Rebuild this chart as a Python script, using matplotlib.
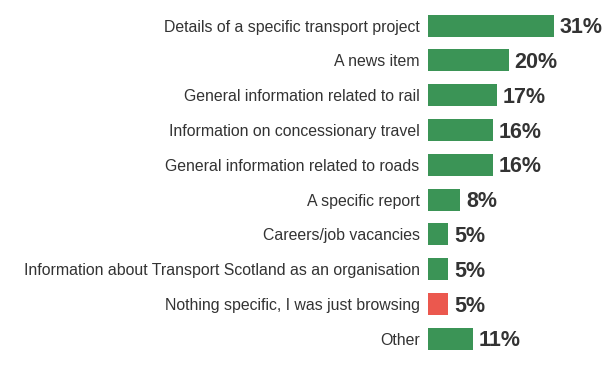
import matplotlib.pyplot as plt

categories = [
    "Details of a specific transport project",
    "A news item",
    "General information related to rail",
    "Information on concessionary travel",
    "General information related to roads",
    "A specific report",
    "Careers/job vacancies",
    "Information about Transport Scotland as an organisation",
    "Nothing specific, I was just browsing",
    "Other",
]
values = [31, 20, 17, 16, 16, 8, 5, 5, 5, 11]
highlight = "Nothing specific, I was just browsing"

green = "#3b9456"
red = "#eb584e"
text_col = "#333333"

plt.rcParams['font.family'] = ['Liberation Sans', 'DejaVu Sans']

fig = plt.figure(figsize=(6.13, 3.68), dpi=100)
ax = fig.add_axes([428 / 613, 0.032, 185 / 613, 0.9457])

colors = [red if c == highlight else green for c in categories]
pos = list(range(len(categories)))
ax.barh(pos, values, height=0.63, color=colors)

for p, v in zip(pos, values):
    ax.text(v + 1.4, p + 0.06, f"{v}%", va="center", ha="left",
            fontsize=15.5, fontweight="bold", color=text_col)

ax.set_yticks(pos)
ax.set_yticklabels(categories, fontsize=11.4, color=text_col)
ax.tick_params(axis="y", length=0, pad=6)
ax.set_xticks([])
ax.set_xlim(0, 185 / 4.05)
ax.set_ylim(len(categories) - 0.5, -0.5)
for s in ax.spines.values():
    s.set_visible(False)

fig.savefig("out.png", dpi=100)
